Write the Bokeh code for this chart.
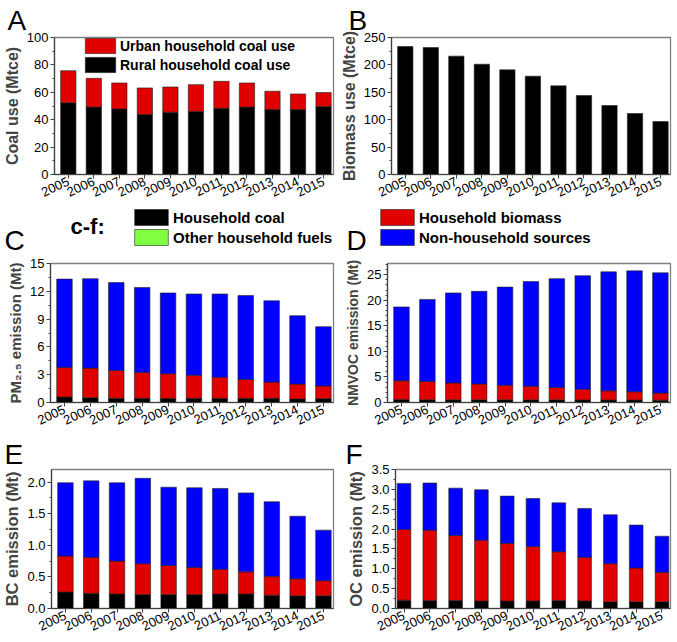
import math
from bokeh.plotting import figure
from bokeh.layouts import column, row
from bokeh.models import (Label, Legend, LegendItem, FixedTicker, ColumnDataSource,
                          Range1d, PrintfTickFormatter)
from bokeh.embed import file_html
from bokeh.resources import INLINE

# ---------------- data ----------------
years = [2005, 2006, 2007, 2008, 2009, 2010, 2011, 2012, 2013, 2014, 2015]

# A: household coal use (Mtce)
rural_coal = [52.3, 49.2, 47.9, 43.8, 45.5, 46.0, 48.4, 49.2, 47.5, 47.5, 49.6]
urban_coal = [23.5, 21.0, 18.9, 19.4, 18.4, 19.6, 19.6, 17.6, 13.3, 11.3, 10.2]

# B: biomass use (Mtce)
biomass_use = [233.6, 231.8, 216.0, 201.3, 191.0, 179.4, 161.8, 144.2, 125.9, 111.3, 96.7]

# C: PM2.5 emission (Mt)
pm_coal = [0.59, 0.52, 0.45, 0.45, 0.45, 0.45, 0.45, 0.45, 0.45, 0.38, 0.42]
pm_biomass = [3.19, 3.19, 3.01, 2.80, 2.66, 2.49, 2.28, 2.03, 1.75, 1.61, 1.36]
pm_nonhh = [9.54, 9.65, 9.48, 9.16, 8.71, 8.77, 8.98, 9.06, 8.78, 7.38, 6.40]

# D: NMVOC emission (Mt)
voc_coal = [0.57, 0.55, 0.53, 0.52, 0.52, 0.52, 0.52, 0.50, 0.48, 0.47, 0.45]
voc_biomass = [3.69, 3.58, 3.29, 3.11, 2.85, 2.66, 2.41, 2.11, 1.81, 1.63, 1.39]
voc_nonhh = [14.44, 16.04, 17.62, 18.13, 19.21, 20.48, 21.31, 22.20, 23.28, 23.66, 23.54]

# E: BC emission (Mt)
bc_coal = [0.26, 0.24, 0.23, 0.22, 0.22, 0.22, 0.23, 0.23, 0.21, 0.20, 0.20]
bc_biomass = [0.57, 0.57, 0.52, 0.49, 0.46, 0.43, 0.39, 0.35, 0.30, 0.27, 0.24]
bc_nonhh = [1.16, 1.21, 1.24, 1.35, 1.24, 1.26, 1.28, 1.25, 1.18, 0.99, 0.80]

# F: OC emission (Mt)
oc_coal = [0.21, 0.20, 0.20, 0.19, 0.19, 0.19, 0.20, 0.19, 0.17, 0.17, 0.17]
oc_biomass = [1.78, 1.77, 1.64, 1.53, 1.45, 1.37, 1.23, 1.10, 0.96, 0.85, 0.74]
oc_nonhh = [1.16, 1.19, 1.19, 1.27, 1.19, 1.21, 1.23, 1.23, 1.23, 1.08, 0.91]

# legend labels (panels C-F)
legend_left = ["Household coal", "Other household fuels"]
legend_right = ["Household biomass", "Non-household sources"]

# y ticks
ticks_A = [0, 20, 40, 60, 80, 100]
minor_A = [10, 30, 50, 70, 90]
ticks_B = [0, 50, 100, 150, 200, 250]
minor_B = [25, 75, 125, 175, 225]
ticks_C = [0, 3, 6, 9, 12, 15]
minor_C = [1.5, 4.5, 7.5, 10.5, 13.5]
ticks_D = [0, 5, 10, 15, 20, 25]
minor_D = [1, 2, 3, 4, 6, 7, 8, 9, 11, 12, 13, 14, 16, 17, 18, 19, 21, 22, 23, 24, 26, 27]
ticks_E = [0.0, 0.5, 1.0, 1.5, 2.0]
minor_E = [0.25, 0.75, 1.25, 1.75]
ticks_F = [0.0, 0.5, 1.0, 1.5, 2.0, 2.5, 3.0, 3.5]
minor_F = [0.25, 0.75, 1.25, 1.75, 2.25, 2.75, 3.25]

FONT = "Liberation Sans"
BLACK = "#000000"
RED = "#e00000"
GREEN = "#80ff40"
BLUE = "#0000ff"
EDGE = "#222222"

XR_STD = (2004.46, 2015.39)
XR_F = (2004.67, 2015.33)
TOTAL_W = 677
LW, RW = 337, 340


def base_fig(width, height, bl, br, bt, bb, xr, yr, yticks, yminor, ylabel,
             fmt=None, label_size="16px"):
    p = figure(width=width, height=height, x_range=Range1d(*xr), y_range=Range1d(*yr),
               output_backend="svg", toolbar_location=None, tools="",
               min_border_left=bl, min_border_right=br, min_border_top=bt,
               min_border_bottom=bb, background_fill_color="white",
               border_fill_color="white")
    p.grid.visible = False
    p.outline_line_color = "#808080"
    p.outline_line_width = 1.3
    for ax in (p.xaxis[0], p.yaxis[0]):
        ax.axis_line_color = "#404040"
        ax.axis_line_width = 1.2
        ax.major_tick_line_color = "#404040"
        ax.minor_tick_line_color = "#404040"
        ax.major_tick_in = 0
        ax.major_tick_out = 4
        ax.minor_tick_in = 0
        ax.minor_tick_out = 2
        ax.major_label_text_font = FONT
        ax.major_label_text_color = "black"
    xa = p.xaxis[0]
    xa.ticker = FixedTicker(ticks=years)
    xa.major_label_orientation = 0.44
    xa.major_label_text_font_size = "13px"
    xa.major_label_standoff = 2
    ya = p.yaxis[0]
    ya.ticker = FixedTicker(ticks=yticks, minor_ticks=yminor)
    ya.major_label_text_font_size = "13px"
    ya.major_label_standoff = 2
    ya.axis_label = ylabel
    ya.axis_label_text_font = FONT
    ya.axis_label_text_font_style = "bold"
    ya.axis_label_text_font_size = label_size
    ya.axis_label_standoff = 3
    if fmt:
        ya.formatter = PrintfTickFormatter(format=fmt)
    return p


def panel_letter(p, txt, offset, valign):
    p.title.text = txt
    p.title.text_font = FONT
    p.title.text_font_size = "28px"
    p.title.text_font_style = "normal"
    p.title.text_color = "black"
    p.title.align = "left"
    p.title.offset = offset
    p.title.standoff = 0
    p.title.vertical_align = valign


def strip(height):
    s = figure(width=TOTAL_W, height=height, x_range=Range1d(0, TOTAL_W),
               y_range=Range1d(0, height), output_backend="svg",
               toolbar_location=None, tools="", min_border=0, min_border_left=0,
               min_border_right=0, min_border_top=0, min_border_bottom=0,
               x_axis_location=None, y_axis_location=None,
               background_fill_color="white", border_fill_color="white")
    s.grid.visible = False
    s.outline_line_color = None
    return s


def letter(p, txt, x, y):
    p.add_layout(Label(x=x, y=y, text=txt, text_font=FONT, text_font_size="28px",
                       text_baseline="alphabetic", text_color="black"))


def style_legend(lg, size, gw, gh, spacing):
    lg.background_fill_alpha = 0
    lg.border_line_alpha = 0
    lg.padding = 0
    lg.margin = 0
    lg.spacing = spacing
    lg.glyph_width = gw
    lg.glyph_height = gh
    lg.label_height = gh
    lg.label_standoff = 1
    lg.label_text_font = FONT
    lg.label_text_font_style = "bold"
    lg.label_text_font_size = size
    lg.label_text_color = "black"


# ---------------- A ----------------
pA = base_fig(LW, 206, 50, 4, 37, 32, XR_STD, (0, 100), ticks_A, minor_A, "Coal use (Mtce)")
panel_letter(pA, "A", -47, "top")
srcA = ColumnDataSource(dict(year=years, rural=rural_coal, urban=urban_coal))
rA = pA.vbar_stack(["rural", "urban"], x="year", width=0.6, source=srcA,
                   fill_color=[BLACK, RED], line_color=EDGE, line_width=0.6)
lgA = Legend(items=[LegendItem(label="Urban household coal use", renderers=[rA[1]]),
                    LegendItem(label="Rural household coal use", renderers=[rA[0]])],
             location=(27, 100))
style_legend(lgA, "14px", 38, 19, 0)
pA.add_layout(lgA)

# ---------------- B ----------------
pB = base_fig(RW, 206, 50, 7, 37, 32, XR_STD, (0, 250), ticks_B, minor_B, "Biomass use (Mtce)")
panel_letter(pB, "B", -43, "top")
srcB = ColumnDataSource(dict(year=years, use=biomass_use))
pB.vbar(x="year", top="use", width=0.6, source=srcB, fill_color=BLACK,
        line_color=EDGE, line_width=0.6)

# ---------------- strip: legend c-f, letters C, D ----------------
s2 = strip(50)
letter(s2, "C", 4, 16)
letter(s2, "D", 346, 16)
s2.add_layout(Label(x=70, y=30, text="c-f:", text_font=FONT, text_font_size="22px",
                    text_font_style="bold", text_baseline="alphabetic", text_color="black"))
# hidden one-point keys so the legend can draw its swatches
key_src = ColumnDataSource(dict(x=[0], top=[0]))
key_colors = [BLACK, GREEN, RED, BLUE]
keys = []
for c in key_colors:
    r = s2.vbar(x="x", top="top", width=0.6, source=key_src, fill_color=c,
                line_color=EDGE, line_width=0.6)
    r.visible = False
    keys.append(r)
lg1 = Legend(items=[LegendItem(label=legend_left[0], renderers=[keys[0]]),
                    LegendItem(label=legend_left[1], renderers=[keys[1]])],
             location=(130, 9))
style_legend(lg1, "15px", 42, 20, -2)
s2.add_layout(lg1)
lg2 = Legend(items=[LegendItem(label=legend_right[0], renderers=[keys[2]]),
                    LegendItem(label=legend_right[1], renderers=[keys[3]])],
             location=(376, 9))
style_legend(lg2, "15px", 42, 20, -2)
s2.add_layout(lg2)

# ---------------- C ----------------
pC = base_fig(LW, 178, 50, 4, 7, 32, XR_STD, (0, 15), ticks_C, minor_C,
              "PM₂.₅ emission (Mt)", label_size="15px")
srcC = ColumnDataSource(dict(year=years, coal=pm_coal, bio=pm_biomass, non=pm_nonhh))
pC.vbar_stack(["coal", "bio", "non"], x="year", width=0.6, source=srcC,
              fill_color=[BLACK, RED, BLUE], line_color=EDGE, line_width=0.6)

# ---------------- D ----------------
pD = base_fig(RW, 178, 50, 7, 7, 32, XR_STD, (0, 27.2), ticks_D, minor_D,
              "NMVOC emission (Mt)", label_size="14px")
srcD = ColumnDataSource(dict(year=years, coal=voc_coal, bio=voc_biomass, non=voc_nonhh))
pD.vbar_stack(["coal", "bio", "non"], x="year", width=0.6, source=srcD,
              fill_color=[BLACK, RED, BLUE], line_color=EDGE, line_width=0.6)

# ---------------- E ----------------
pE = base_fig(LW, 206, 50, 4, 34, 32, XR_STD, (0, 2.2), ticks_E, minor_E,
              "BC emission (Mt)", "%.1f", label_size="16.5px")
panel_letter(pE, "E", -47, "bottom")
srcE = ColumnDataSource(dict(year=years, coal=bc_coal, bio=bc_biomass, non=bc_nonhh))
pE.vbar_stack(["coal", "bio", "non"], x="year", width=0.6, source=srcE,
              fill_color=[BLACK, RED, BLUE], line_color=EDGE, line_width=0.6)

# ---------------- F ----------------
pF = base_fig(RW, 206, 58, 7, 35, 32, XR_F, (0, 3.5), ticks_F, minor_F,
              "OC emission (Mt)", "%.1f", label_size="16.5px")
panel_letter(pF, "F", -50, "bottom")
srcF = ColumnDataSource(dict(year=years, coal=oc_coal, bio=oc_biomass, non=oc_nonhh))
pF.vbar_stack(["coal", "bio", "non"], x="year", width=0.53, source=srcF,
              fill_color=[BLACK, RED, BLUE], line_color=EDGE, line_width=0.6)

layout = column(row(pA, pB), s2, row(pC, pD), row(pE, pF))
open("out.html", "w").write(file_html(layout, INLINE))
